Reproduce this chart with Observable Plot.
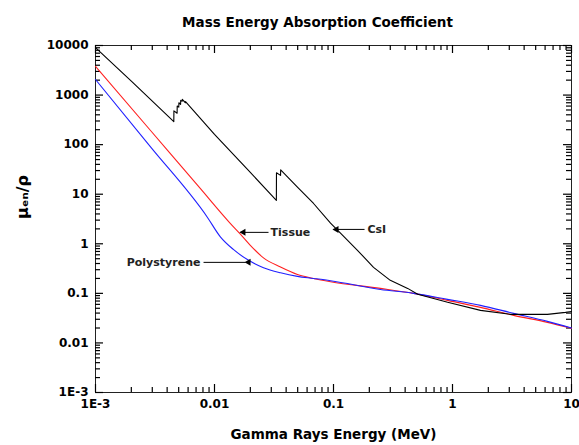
<!DOCTYPE html>
<html><head><meta charset="utf-8">
<script src="https://cdn.jsdelivr.net/npm/d3@7"></script>
<script src="https://cdn.jsdelivr.net/npm/@observablehq/plot@0.6"></script>
<style>body{margin:0;background:#fff;} svg{display:block;}</style>
</head><body><div id="chart"></div>
<script>
// CsI (black)
const csiEnergy = [0.001, 0.002, 0.00455, 0.00456, 0.00485, 0.00486, 0.00501, 0.00502, 0.00519, 0.0052, 0.00535, 0.00536, 0.0057, 0.00571, 0.01, 0.02, 0.0331, 0.03317, 0.0359, 0.03599, 0.05, 0.068, 0.0944, 0.115, 0.159, 0.217, 0.3, 0.42, 0.51, 0.91, 1.72, 3.07, 6.28, 8.9, 10];
const csiValue  = [9100, 1920, 290, 480, 430, 600, 570, 700, 650, 780, 750, 820, 700, 740, 161, 27.5, 7.5, 27, 24, 31, 13.7, 6.5, 2.6, 1.62, 0.74, 0.334, 0.183, 0.126, 0.096, 0.066, 0.0454, 0.0377, 0.0377, 0.0414, 0.043];
// Tissue (red)
const tissueEnergy = [0.001, 0.0029, 0.00762, 0.0135, 0.0165, 0.02, 0.0258, 0.0359, 0.0498, 0.068, 0.0944, 0.248, 0.47, 0.908, 1.72, 3.26, 6.28, 10];
const tissueValue  = [3800, 193, 12.9, 2.61, 1.56, 0.93, 0.52, 0.34, 0.24, 0.2, 0.172, 0.126, 0.1, 0.0723, 0.0522, 0.036, 0.026, 0.0197];
// Polystyrene (blue)
const polyEnergy = [0.001, 0.0029, 0.00873, 0.0112, 0.0144, 0.0189, 0.0258, 0.0359, 0.0498, 0.068, 0.0944, 0.248, 0.47, 0.908, 1.72, 3.26, 6.28, 10];
const polyValue  = [2060, 90, 3.4, 1.38, 0.77, 0.48, 0.33, 0.26, 0.22, 0.2, 0.18, 0.12, 0.1, 0.0757, 0.0573, 0.0395, 0.0272, 0.02];

const xTicks = [0.001, 0.01, 0.1, 1, 10];
const xTickLabels = ["1E-3", "0.01", "0.1", "1", "10"];
const yTicks = [0.001, 0.01, 0.1, 1, 10, 100, 1000, 10000];
const yTickLabels = ["1E-3", "0.01", "0.1", "1", "10", "100", "1000", "10000"];

const annLabels = ["Tissue", "CsI", "Polystyrene"];
const annTextX = [0.0296, 0.193, 0.00762];
const annY = [1.70, 1.95, 0.422];
const annTailX = [0.02844, 0.1824, 0.00809];
const annTipX = [0.01652, 0.1, 0.01824];

const titleText = "Mass Energy Absorption Coefficient";
const xLabel = "Gamma Rays Energy (MeV)";
const yLabel = "μₑₙ/ρ";

const toRows = (E, V, s) => E.map((e, i) => ({e, v: V[i], s}));
const csiRows = toRows(csiEnergy, csiValue, "CsI");
const lightRows = [...toRows(tissueEnergy, tissueValue, "Tissue"), ...toRows(polyEnergy, polyValue, "Polystyrene")];
const ann = annLabels.map((t, i) => ({t, tx: annTextX[i], y: annY[i], x1: annTailX[i], x2: annTipX[i], anchor: i === 2 ? "end" : "start"}));

const minor = (lo, hi) => { const out = []; for (let p = lo; p < hi; p++) for (let k = 2; k <= 9; k++) out.push(k * Math.pow(10, p)); return out; };
const xMinor = minor(-3, 1);
const yMinor = minor(-3, 4);

const W = 579, H = 445, mL = 95, mR = 8, mT = 45, mB = 53;
const innerW = W - mL - mR, innerH = H - mT - mB;
const major = 8, minorLen = 5;
const font = "DejaVu Sans, sans-serif";
const lab = (v, arr, labels) => labels[arr.findIndex(t => Math.abs(t - v) / t < 1e-6)];
const tk = {stroke: "#000", strokeWidth: 1.2, strokeOpacity: 1};

const plot = Plot.plot({
  width: W, height: H,
  marginLeft: mL, marginRight: mR, marginTop: mT, marginBottom: mB,
  style: {fontFamily: font, background: "#fff", color: "#000"},
  x: {type: "log", domain: [0.001, 10], axis: null},
  y: {type: "log", domain: [0.001, 10000], axis: null},
  color: {domain: ["CsI", "Tissue", "Polystyrene"], range: ["#000000", "#ff2020", "#2020ff"]},
  marks: [
    Plot.frame({stroke: "#222"}),
    // inward ticks on all four sides
    Plot.ruleX(xTicks, {x: d => d, insetTop: innerH - major, ...tk}),
    Plot.ruleX(xMinor, {x: d => d, insetTop: innerH - minorLen, ...tk}),
    Plot.ruleX(xTicks, {x: d => d, insetBottom: innerH - major, ...tk}),
    Plot.ruleX(xMinor, {x: d => d, insetBottom: innerH - minorLen, ...tk}),
    Plot.ruleY(yTicks, {y: d => d, insetRight: innerW - major, ...tk}),
    Plot.ruleY(yMinor, {y: d => d, insetRight: innerW - minorLen, ...tk}),
    Plot.ruleY(yTicks, {y: d => d, insetLeft: innerW - major, ...tk}),
    Plot.ruleY(yMinor, {y: d => d, insetLeft: innerW - minorLen, ...tk}),
    // tick labels
    Plot.axisX(xTicks, {anchor: "bottom", tickSize: 0, tickPadding: 7, tickFormat: d => lab(d, xTicks, xTickLabels), fontSize: 12, fontWeight: "bold", label: null}),
    Plot.axisY(yTicks, {anchor: "left", tickSize: 0, tickPadding: 7, tickFormat: d => lab(d, yTicks, yTickLabels), fontSize: 12, fontWeight: "bold", label: null}),
    // series
    Plot.line(lightRows, {x: "e", y: "v", z: "s", stroke: "s", strokeWidth: 1.1, curve: "monotone-x"}),
    Plot.line(csiRows, {x: "e", y: "v", stroke: "s", strokeWidth: 1.1}),
    // annotations
    Plot.link(ann, {x1: "x1", x2: "x2", y1: "y", y2: "y", stroke: "#000", strokeWidth: 1}),
    Plot.dot(ann, {x: "x2", y: "y", symbol: "triangle", rotate: -90, r: 2.6, fill: "#000", dx: 3}),
    Plot.text(ann, {x: "tx", y: "y", text: "t", textAnchor: "start", filter: d => d.anchor === "start", fontSize: 11, fontWeight: "bold", letterSpacing: "1px", fill: "#222"}),
    Plot.text(ann, {x: "tx", y: "y", text: "t", textAnchor: "end", filter: d => d.anchor === "end", fontSize: 11, fontWeight: "bold", letterSpacing: "1px", fill: "#222"}),
    // titles
    Plot.text([titleText], {frameAnchor: "top", dy: -28, dx: -16, text: d => d, fontSize: 13.5, fontWeight: "bold"}),
    Plot.text([xLabel], {frameAnchor: "bottom", dy: 46, text: d => d, fontSize: 13.5, fontWeight: "bold"}),
    Plot.text([yLabel], {frameAnchor: "left", dx: -73, text: d => d, rotate: -90, fontSize: 16, fontWeight: "bold"})
  ]
});
document.getElementById("chart").appendChild(plot);
</script>
</body></html>
